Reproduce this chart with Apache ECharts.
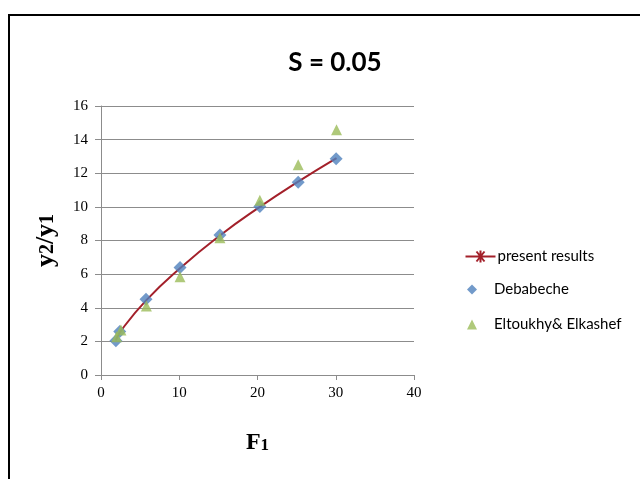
<!DOCTYPE html>
<html><head><meta charset="utf-8">
<script src="https://cdn.jsdelivr.net/npm/echarts@6/dist/echarts.min.js"></script>
<style>html,body{margin:0;padding:0;background:#fff}#c{width:640px;height:479px}</style>
</head><body><div id="c"></div>
<script>
const presentX = [1.9, 2.5, 5.8, 10.1, 15.2, 20.3, 25.2, 30.1];
const presentY = [2.05, 2.6, 4.45, 6.35, 8.3, 10.0, 11.5, 12.9];
const debabecheX = [1.9, 2.4, 5.75, 10.1, 15.2, 20.3, 25.2, 30.05];
const debabecheY = [2.04, 2.58, 4.5, 6.39, 8.33, 10.02, 11.47, 12.86];
const eltoukhyX = [2.0, 2.55, 5.8, 10.1, 15.2, 20.3, 25.2, 30.1];
const eltoukhyY = [2.28, 2.68, 4.1, 5.85, 8.17, 10.4, 12.5, 14.58];
const xTicks = [0, 10, 20, 30, 40];
const yTicks = [0, 2, 4, 6, 8, 10, 12, 14, 16];

const zip = (a, b) => a.map((v, i) => [v, b[i]]);
const sans = 'Lato, "Open Sans", sans-serif';
const serif = '"Liberation Serif", "DejaVu Serif", serif';
const xRich = {
  a: {fontFamily: serif, fontWeight: 'bold', fontSize: 24, color: '#000'},
  s: {fontFamily: serif, fontWeight: 'bold', fontSize: 17, color: '#000', padding: [5, 0, 0, 0]}
};
const yRich = {
  a: {fontFamily: serif, fontWeight: 'bold', fontSize: 26, color: '#000'},
  s: {fontFamily: serif, fontWeight: 'bold', fontSize: 20, color: '#000', padding: [4, 0, 0, 0]}
};
const chart = echarts.init(document.getElementById('c'));
chart.setOption({
  animation: false,
  backgroundColor: '#fff',
  graphic: [{type: 'rect', shape: {x: 9, y: 15, width: 640, height: 480},
    style: {fill: 'none', stroke: '#000', lineWidth: 2}, silent: true}],
  title: {text: 'S = 0.05', left: 330, top: 45, textAlign: 'center',
    textStyle: {fontFamily: sans, fontSize: 26, fontWeight: 'bold', color: '#000'}},
  grid: {left: 101, right: 226, top: 106, bottom: 104},
  legend: [{
    orient: 'vertical', left: 458, top: 243, itemWidth: 30, itemHeight: 14,
    textStyle: {fontFamily: sans, fontSize: 15, color: '#000', padding: [0, 0, 0, -3]},
    data: [
      {name: 'present results', icon: 'path://M0,7 L30,7 M11,2 L19,12 M19,2 L11,12 M15,1 L15,13',
        itemStyle: {color: 'none', borderColor: '#A3202A', borderWidth: 2}}
    ]
  }, {
    orient: 'vertical', left: 462, top: 277, itemGap: 20, itemWidth: 10, itemHeight: 10,
    textStyle: {fontFamily: sans, fontSize: 15, color: '#000', padding: [0, 0, 0, 12]},
    data: [
      {name: 'Debabeche', icon: 'diamond'},
      {name: 'Eltoukhy& Elkashef', icon: 'triangle'}
    ]
  }],
  xAxis: {
    type: 'value', min: 0, max: 40, interval: 10,
    name: '{a|F}{s|1}', nameLocation: 'middle', nameGap: 56,
    nameTextStyle: {rich: xRich},
    axisLine: {lineStyle: {color: '#8c8c8c'}},
    axisTick: {show: true, length: 5, lineStyle: {color: '#8c8c8c'}},
    splitLine: {show: false},
    axisLabel: {fontFamily: serif, fontSize: 15, color: '#000', margin: 11}
  },
  yAxis: {
    type: 'value', min: 0, max: 16, interval: 2,
    name: '{a|y}{s|2}{a|/y}{s|1}', nameLocation: 'middle', nameGap: 42, nameRotate: 90,
    nameTextStyle: {rich: yRich},
    axisLine: {show: true, lineStyle: {color: '#8c8c8c'}},
    axisTick: {show: true, length: 6, lineStyle: {color: '#8c8c8c'}},
    splitLine: {show: true, lineStyle: {color: '#8c8c8c', width: 1}},
    axisLabel: {fontFamily: serif, fontSize: 15, color: '#000', margin: 13}
  },
  series: [
    {name: 'present results', type: 'line', smooth: true, symbol: 'none',
      data: zip(presentX, presentY), lineStyle: {color: '#A3202A', width: 2}, itemStyle: {color: '#A3202A'}, z: 3},
    {name: 'Debabeche', type: 'scatter', symbol: 'diamond', symbolSize: 13,
      data: zip(debabecheX, debabecheY), itemStyle: {color: '#4F81BD'}, z: 4},
    {name: 'Eltoukhy& Elkashef', type: 'scatter', symbol: 'triangle', symbolSize: 11,
      data: zip(eltoukhyX, eltoukhyY), itemStyle: {color: '#9BBB59'}, z: 5}
  ]
});
</script></body></html>
